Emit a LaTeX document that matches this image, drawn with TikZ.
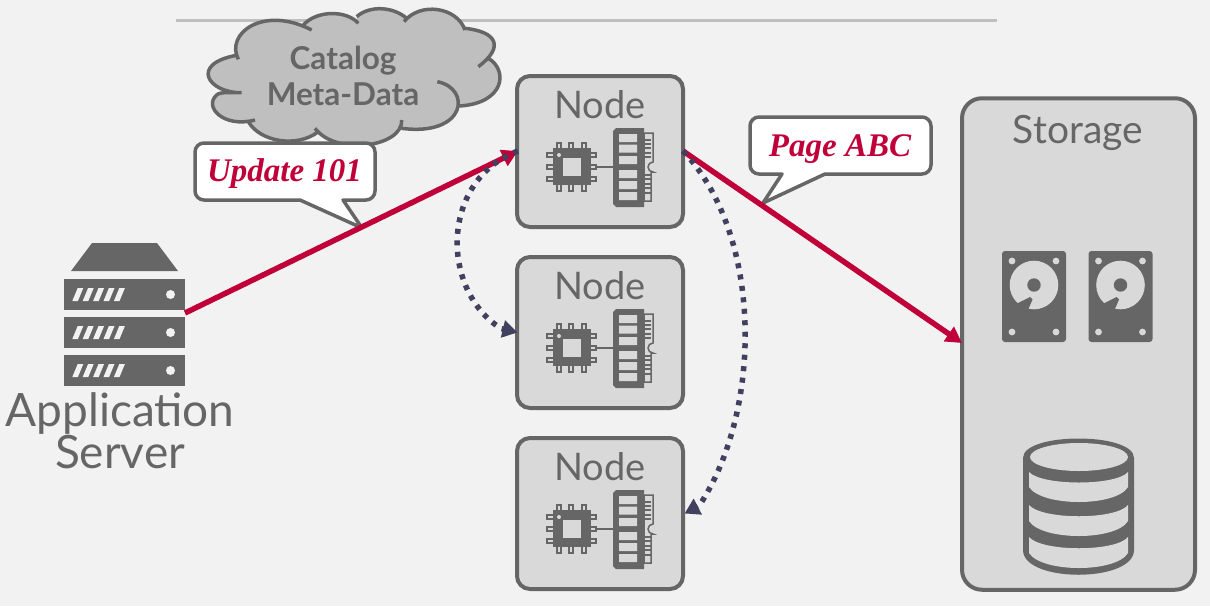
\documentclass[tikz,border=0pt]{standalone}
\usepackage{fontspec}
\setmainfont{Lato}
\newfontfamily\calloutfont{Liberation Serif}
\usetikzlibrary{arrows.meta}
\definecolor{bgc}{HTML}{F2F2F2}
\definecolor{graya}{HTML}{666666}
\definecolor{panelc}{HTML}{D9D9D9}
\definecolor{cloudc}{HTML}{BFBFBF}
\definecolor{redc}{HTML}{C00039}
\definecolor{dotc}{HTML}{41415F}
\tikzset{
  compnode/.style={draw=graya,fill=panelc,line width=4pt,rounded corners=13pt,minimum width=166pt,minimum height=151pt,inner sep=0pt},
  storebox/.style={draw=graya,fill=panelc,line width=4pt,rounded corners=20pt,minimum width=233pt,minimum height=491.5pt,inner sep=0pt},
  lab/.style={text=graya,font=\fontsize{38}{38}\selectfont,anchor=base,inner sep=0pt},
  calltext/.style={text=redc,font=\calloutfont\bfseries\itshape\fontsize{33}{33}\selectfont,inner sep=0pt},
  callbox/.style={draw=graya,fill=white,line width=3.5pt,line join=round},
  redarrow/.style={draw=redc,line width=5.5pt,-{Triangle[length=16pt,width=17pt]}},
  dotarrow/.style={draw=dotc,line width=5.5pt,dash pattern=on 5pt off 6.5pt,-{Triangle[length=15pt,width=17pt]}},
  pin/.style={draw=graya,fill=panelc,line width=1.3pt},
  nodeicon/.pic={
    \begin{scope}[shift={(-600,-152)}]
      \foreach \px in {559,571,584}{
        \filldraw[pin] (\px-2,143) rectangle (\px+2,149);
        \filldraw[pin] (\px-2,184) rectangle (\px+2,191);
      }
      \foreach \py in {155,167,179}{
        \filldraw[pin] (547,\py-2) rectangle (554,\py+2);
        \filldraw[pin] (590,\py-2) rectangle (596,\py+2);
      }
      \fill[graya] (553,148) rectangle (591,185);
      \fill[panelc] (563,158) rectangle (581,176);
      \fill[panelc] (559,155) circle[radius=2pt];
      \draw[graya,line width=1.5pt] (596,167) -- (613,167);
      \filldraw[draw=graya,fill=panelc,line width=1.5pt] (644,133) -- (653,133) -- (653,162) arc[start angle=90,end angle=270,radius=5pt] -- (651,172) -- (651,201) -- (644,201) -- cycle;
      \foreach \sy in {140,144,148,153,157,175,179,184,188,193}{
        \draw[graya,line width=1.6pt] (644,\sy) -- (650.5,\sy);
      }
      \fill[graya] (616,128) -- (644,128) -- (644,207) -- (616,207) -- (613,204) -- (613,131) -- cycle;
      \fill[panelc] (619,134) rectangle (637,142)
                    (619,144.5) rectangle (637,152.5)
                    (619,156) rectangle (637,164)
                    (619,170) rectangle (637,178)
                    (619,181) rectangle (637,189)
                    (619,192) rectangle (637,200);
    \end{scope}
  },
  diskicon/.pic={
    \begin{scope}[shift={(-1034,-296.5)}]
      \fill[graya,rounded corners=3pt] (1002,251) rectangle (1066,342);
      \fill[panelc] (1034,285) circle[radius=24.3pt];
      \fill[graya] (1034,285) circle[radius=6.7pt];
      \fill[graya] (1017,303.5) -- (1030,297) -- (1032.5,299.5) -- (1028,310) -- (1020,312) -- cycle;
      \foreach \hx/\hy in {1012/261,1056/261,1012/332,1056/332}{
        \fill[panelc] (\hx,\hy) circle[radius=3.4pt];
      }
    \end{scope}
  }
}
\begin{document}
\begin{tikzpicture}[x=1pt,y=-1pt]
\useasboundingbox (0,0) rectangle (1210,606);
\fill[bgc] (0,0) rectangle (1210,606);
% title rule
\coordinate (rulea) at (176,20);
\coordinate (ruleb) at (997,20);
\draw[cloudc,line width=3pt] (rulea) -- (ruleb);
% cloud
\begin{scope}[shift={(180,0)},x=0.33333pt,y=-0.33333pt]
\fill[cloudc] (175,178) .. controls (135,100) and (250,15) .. (395,90)
  -- (370,75) .. controls (410,30) and (500,30) .. (535,70)
  -- (530,50) .. controls (570,15) and (640,20) .. (680,55)
  -- (672,65) .. controls (720,5) and (830,20) .. (855,90)
  -- (855,85) .. controls (950,95) and (975,140) .. (895,200)
  -- (925,175) .. controls (985,210) and (975,310) .. (838,318)
  -- (772,245) .. controls (875,265) and (860,410) .. (665,385)
  -- (665,360) .. controls (670,440) and (470,470) .. (405,385)
  -- (415,395) .. controls (350,445) and (240,425) .. (205,365)
  -- (225,360) .. controls (130,385) and (70,320) .. (110,285) .. controls (120,275) and (150,278) .. (185,278)
  .. controls (85,280) and (25,190) .. (175,165) -- cycle;
\draw[graya,line width=3.5pt]
  (175,178) .. controls (135,100) and (250,15) .. (395,90)
  (370,75) .. controls (410,30) and (500,30) .. (535,70)
  (530,50) .. controls (570,15) and (640,20) .. (680,55)
  (672,65) .. controls (720,5) and (830,20) .. (855,90)
  (855,85) .. controls (950,95) and (975,140) .. (895,200)
  (925,175) .. controls (985,210) and (975,310) .. (838,318)
  (772,245) .. controls (875,265) and (860,410) .. (665,385)
  (665,360) .. controls (670,440) and (470,470) .. (405,385)
  (415,395) .. controls (350,445) and (240,425) .. (205,365)
  (225,360) .. controls (130,385) and (70,320) .. (110,285) .. controls (120,275) and (150,278) .. (185,278)
  (185,278) .. controls (85,280) and (25,190) .. (175,165);
\end{scope}
\node[text=graya,font=\fontsize{31.5}{36}\selectfont\bfseries,align=center,inner sep=0pt] (catalog) at (343,76) {Catalog\\Meta-Data};
% callouts
\draw[callbox] (362,228) -- (300,200) [rounded corners=9pt] -- (195,200) -- (195,143) -- (375,143) -- (375,200) [sharp corners] -- (343,200) -- cycle;
\node[calltext] (update) at (284.5,174) {Update 101};
\draw[callbox] (763,203) -- (782,174) [rounded corners=9pt] -- (750,174) -- (750,117) -- (931,117) -- (931,174) [sharp corners] -- (825,174) -- cycle;
\node[calltext] (page) at (840,149) {Page ABC};
% compute nodes
\node[compnode] (n1) at (600,151.5) {};
\node[compnode] (n2) at (600,332.5) {};
\node[compnode] (n3) at (600,513.5) {};
\node[lab] (n1t) at (600,118) {Node};
\node[lab] (n2t) at (600,299) {Node};
\node[lab] (n3t) at (600,480) {Node};
\pic at (600,152) {nodeicon};
\pic at (600,333) {nodeicon};
\pic at (600,514) {nodeicon};
% storage
\node[storebox] (store) at (1078.5,344) {};
\node[lab,font=\fontsize{39}{39}\selectfont] (storet) at (1078,143.5) {Storage};
\pic at (1034,296.5) {diskicon};
\pic at (1120.5,296.5) {diskicon};
% database
\fill[graya] (1023,458) .. controls (1023,432) and (1134,432) .. (1134,458) -- (1134,550) .. controls (1134,583) and (1023,583) .. (1023,550) -- cycle;
\fill[panelc] (1079,457) ellipse[x radius=49pt,y radius=14pt];
\fill[panelc] (1029,472) .. controls (1042,486) and (1116,486) .. (1128,472) -- (1128,487) .. controls (1116,507) and (1042,507) .. (1029,487) -- cycle;
\fill[panelc] (1029,505) .. controls (1042,520) and (1116,520) .. (1128,505) -- (1128,521) .. controls (1116,541) and (1042,541) .. (1029,521) -- cycle;
\fill[panelc] (1029,537) .. controls (1042,552) and (1116,552) .. (1128,537) -- (1128,553) .. controls (1116,573) and (1042,573) .. (1029,553) -- cycle;
% server
\fill[graya] (71,271) -- (178,271) -- (157,243) -- (92,243) -- cycle;
\foreach \by in {279,317,355}{
  \fill[graya] (64,\by) rectangle (185,\by+30.5);
  \fill[bgc] (170.5,\by+15.5) circle[radius=4.5pt];
  \foreach \k in {0,1,2,3,4}{
    \fill[bgc] (72.3+\k*10.4,\by+22) -- (77.7+\k*10.4,\by+9) -- (83.3+\k*10.4,\by+9) -- (77.9+\k*10.4,\by+22) -- cycle;
  }
}
\node[text=graya,font=\fontsize{46}{42}\selectfont,align=center,inner sep=0pt] (server) at (120,431) {Application\\Server};
% connectors
\coordinate (srv) at (185,313);
\coordinate (n1w) at (518,151);
\coordinate (n1e) at (683,151);
\coordinate (n2w) at (517.5,332.5);
\coordinate (n3e) at (684.5,513.5);
\coordinate (stw) at (962,343);
\draw[redarrow] (srv) -- (n1w);
\draw[redarrow] (n1e) -- (stw);
\draw[dotarrow] (n1w) .. controls (440,180) and (440,290) .. (501,328.5) -- (n2w);
\draw[dotarrow] (n1e) .. controls (763,235) and (763,410) .. (699,506) -- (n3e);
\end{tikzpicture}
\end{document}
